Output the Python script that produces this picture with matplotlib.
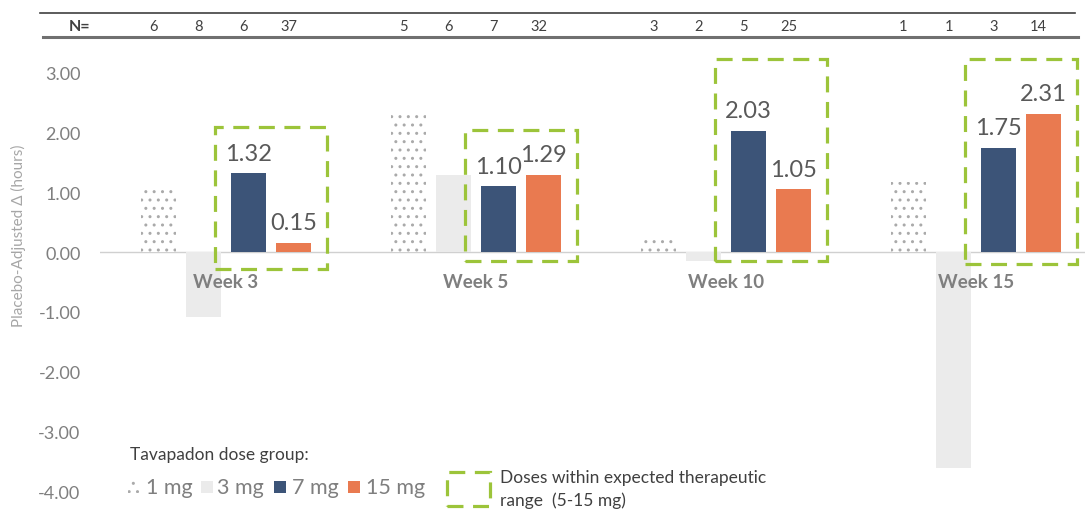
import numpy as np
import matplotlib.pyplot as plt
from matplotlib.patches import Rectangle
from matplotlib.lines import Line2D
import matplotlib.transforms as mtransforms

plt.rcParams['font.family'] = ['Lato', 'DejaVu Sans']

# ---------------- data ----------------
weeks = ['Week 3', 'Week 5', 'Week 10', 'Week 15']
doses = ['1 mg', '3 mg', '7 mg', '15 mg']
vals_1mg = [1.10, 2.37, 0.29, 1.17]
vals_3mg = [-1.09, 1.29, -0.15, -3.62]
vals_7mg = [1.32, 1.10, 2.03, 1.75]
vals_15mg = [0.15, 1.29, 1.05, 2.31]
n_counts = [[6, 8, 6, 37], [5, 6, 7, 32], [3, 2, 5, 25], [1, 1, 3, 14]]

# ---------------- style ----------------
navy = '#3C5478'
orange = '#E97A50'
lgray = '#EBEBEB'
dotc = '#aaaaaa'
green = '#9CC43A'
txt = '#595959'

fig = plt.figure(figsize=(10.85, 5.10), dpi=100)
ax = fig.add_axes([100 / 1085, 9 / 510, 985 / 1085, 457 / 510])

x = np.arange(len(weeks))
offs = [-0.27, -0.09, 0.09, 0.27]
w = 0.14

ax.bar(x + offs[0], vals_1mg, w, color='white', edgecolor=dotc, hatch='..', linewidth=0)
ax.bar(x + offs[1], vals_3mg, w, color=lgray, linewidth=0)
b7 = ax.bar(x + offs[2], vals_7mg, w, color=navy, linewidth=0)
b15 = ax.bar(x + offs[3], vals_15mg, w, color=orange, linewidth=0)

for bars, vals in [(b7, vals_7mg), (b15, vals_15mg)]:
    for b, v in zip(bars, vals):
        ax.annotate(f'{v:.2f}', (b.get_x() + b.get_width() / 2, v),
                    xytext=(0, 7), textcoords='offset points',
                    ha='center', va='bottom', fontsize=17, color=txt)

ax.axhline(0, color='#d0d0d0', lw=1, zorder=0)

for i, wk in enumerate(weeks):
    ax.text(i, -0.49, wk, ha='center', va='center', fontsize=13.5,
            fontweight='bold', color='#7f7f7f', zorder=5)

# dashed boxes around 7 and 15 mg bars
box_top = [2.09, 2.04, 3.23, 3.23]
box_bot = [-0.28, -0.15, -0.15, -0.20]
for i in range(len(weeks)):
    x0 = i + offs[2] - w / 2 - 0.065
    x1 = i + offs[3] + w / 2 + 0.065
    ax.add_patch(Rectangle((x0, box_bot[i]), x1 - x0, box_top[i] - box_bot[i],
                           fill=False, edgecolor=green, lw=2.3,
                           linestyle=(0, (5, 3)), zorder=6))

ax.set_xlim(-0.504, 3.436)
ax.set_ylim(-4.15, 3.5)
ax.set_yticks(np.arange(-4, 4, 1))
ax.set_yticklabels([f'{t:.2f}' for t in np.arange(-4, 4, 1)])
ax.set_xticks([])
ax.tick_params(axis='y', length=0, pad=14, labelsize=13, labelcolor='#7f7f7f')
for s in ax.spines.values():
    s.set_visible(False)

fig.text(18 / 1085, 1 - 236 / 510, 'Placebo-Adjusted Δ (hours)', rotation=90,
         ha='center', va='center', fontsize=11, color='#a6a6a6')

# N table on top
fig.add_artist(Line2D([40 / 1085, 1075 / 1085], [1 - 14 / 510] * 2, color='#404040', lw=1.2))
fig.add_artist(Line2D([43 / 1085, 1078 / 1085], [1 - 38 / 510] * 2, color='#707070', lw=2.2))
fig.text(80 / 1085, 1 - 27 / 510, 'N=', ha='center', va='center', fontsize=11.5,
         fontweight='bold', color='#404040')
trans = mtransforms.blended_transform_factory(ax.transData, fig.transFigure)
for i, row in enumerate(n_counts):
    for j, n in enumerate(row):
        fig.text(i + offs[j] - 0.02, 1 - 27 / 510, str(n), transform=trans,
                 ha='center', va='center', fontsize=10.5, color='#404040')

# legend
fig.text(130 / 1085, 1 - 455 / 510, 'Tavapadon dose group:', ha='left', va='center',
         fontsize=12.5, color='#404040')
ly = 1 - 488 / 510
items = [(128, 146, 'white', '..', '1 mg'), (201, 217, lgray, None, '3 mg'),
         (274, 292, navy, None, '7 mg'), (348, 366, orange, None, '15 mg')]
for sx, tx, c, h, lab in items:
    fig.add_artist(Rectangle((sx / 1085, ly - 6 / 510), 12 / 1085, 12 / 510,
                             facecolor=c, edgecolor=dotc if h else c, hatch=h,
                             lw=0, transform=fig.transFigure))
    fig.text(tx / 1085, ly, lab, ha='left', va='center', fontsize=15.5, color='#7f7f7f')

fig.add_artist(Rectangle((447 / 1085, 1 - 507 / 510), 43 / 1085, 34 / 510, fill=False,
                         edgecolor=green, lw=2.3, linestyle=(0, (5, 3)),
                         transform=fig.transFigure))
fig.text(500 / 1085, 1 - 478 / 510, 'Doses within expected therapeutic', ha='left',
         va='center', fontsize=12.5, color='#404040')
fig.text(500 / 1085, 1 - 501 / 510, 'range  (5-15 mg)', ha='left', va='center',
         fontsize=12.5, color='#404040')

fig.savefig('out.png', dpi=100)
